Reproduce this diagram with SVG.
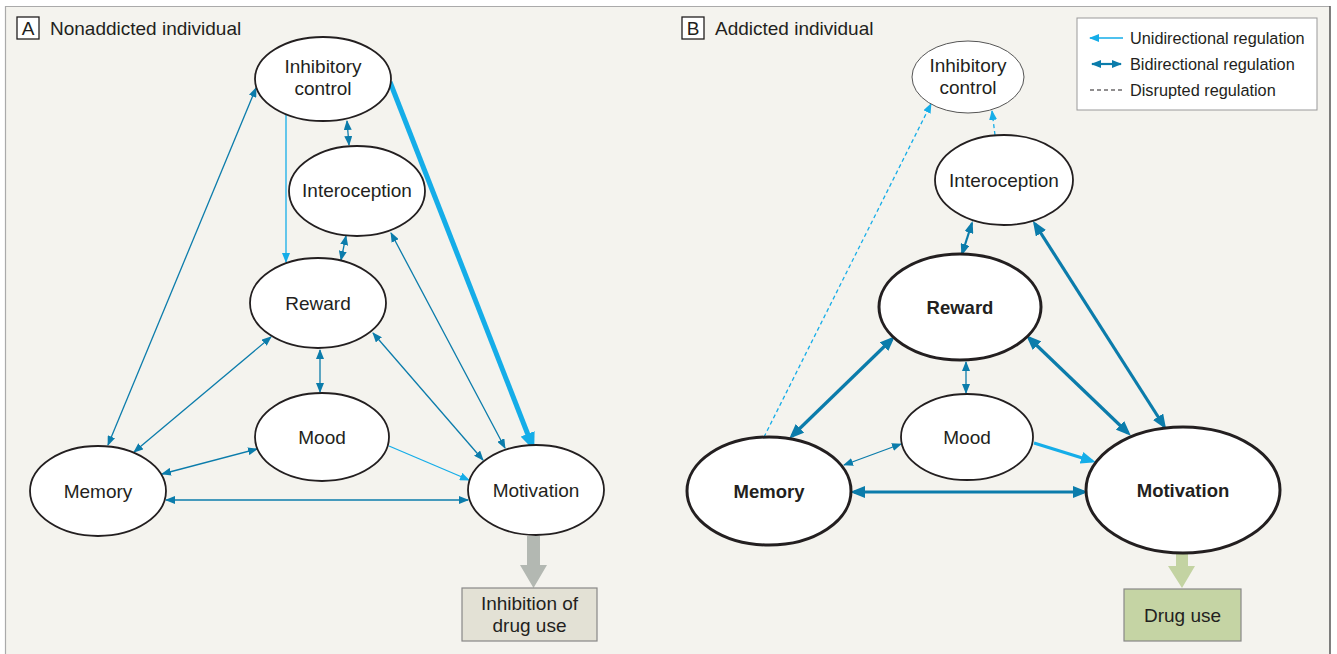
<svg xmlns="http://www.w3.org/2000/svg" width="1337" height="654" viewBox="0 0 1337 654">
<defs>
<style>
text{font-family:"Liberation Sans",Arial,Helvetica,sans-serif;fill:#231f20}
.lbl{font-size:19px;text-anchor:middle}
.b{font-weight:bold;font-size:18.5px}
.ttl{font-size:19px}
.leg{font-size:16.3px}
.node{fill:#fff;stroke:#231f20}
.n1{stroke-width:1.8}
.n3{stroke-width:3}
.nt{stroke:#555;stroke-width:1}
.c{fill:none;stroke-linecap:butt}
.teal{stroke:#0b7cab}
.cyan{stroke:#15ade8}
.w1{stroke-width:1.3}
.w2{stroke-width:2.2}
.w3{stroke-width:3.2}
.w5{stroke-width:5}
.dash{stroke-dasharray:4 3}
</style>
<marker id="tt" markerUnits="userSpaceOnUse" viewBox="0 0 10 8" refX="9" refY="4" markerWidth="10" markerHeight="8" orient="auto-start-reverse"><path d="M0,0 L10,4 L0,8 z" fill="#0b7cab"/></marker>
<marker id="tm" markerUnits="userSpaceOnUse" viewBox="0 0 12 9" refX="10" refY="4.5" markerWidth="12" markerHeight="9" orient="auto-start-reverse"><path d="M0,0 L12,4.5 L0,9 z" fill="#0b7cab"/></marker>
<marker id="tk" markerUnits="userSpaceOnUse" viewBox="0 0 15 12" refX="11" refY="6" markerWidth="15" markerHeight="12" orient="auto-start-reverse"><path d="M0,0 L15,6 L0,12 z" fill="#0b7cab"/></marker>
<marker id="ct" markerUnits="userSpaceOnUse" viewBox="0 0 10 8" refX="9" refY="4" markerWidth="10" markerHeight="8" orient="auto"><path d="M0,0 L10,4 L0,8 z" fill="#15ade8"/></marker>
<marker id="ck" markerUnits="userSpaceOnUse" viewBox="0 0 15 12" refX="11" refY="6" markerWidth="15" markerHeight="12" orient="auto"><path d="M0,0 L15,6 L0,12 z" fill="#15ade8"/></marker>
<marker id="cx" markerUnits="userSpaceOnUse" viewBox="0 0 18 15" refX="12" refY="7.5" markerWidth="18" markerHeight="15" orient="auto"><path d="M0,0 L18,7.5 L0,15 z" fill="#15ade8"/></marker>
</defs>
<rect x="0" y="0" width="1337" height="654" fill="#ffffff"/>
<rect x="5" y="6" width="1325" height="660" fill="#f4f3ee"/>
<line x1="5" y1="6.5" x2="1330" y2="6.5" stroke="#aaa" stroke-width="1.2"/>
<line x1="5.5" y1="6" x2="5.5" y2="654" stroke="#aaa" stroke-width="1.2"/>
<line x1="1330" y1="6" x2="1330" y2="654" stroke="#555" stroke-width="1.5"/>

<g id="titleA">
<rect x="17" y="17" width="22" height="22" fill="#fff" stroke="#231f20" stroke-width="1.3"/>
<text x="28" y="35" class="lbl">A</text>
<text x="50" y="35" class="ttl">Nonaddicted individual</text>
</g>
<g id="titleB">
<rect x="682" y="17" width="22" height="22" fill="#fff" stroke="#231f20" stroke-width="1.3"/>
<text x="693" y="35" class="lbl">B</text>
<text x="715" y="35" class="ttl">Addicted individual</text>
</g>

<g id="legend">
<rect x="1077" y="18" width="240" height="92" fill="#fff" stroke="#999" stroke-width="1"/>
<line x1="1123" y1="38" x2="1090" y2="38" class="c cyan w1" marker-end="url(#ct)"/>
<line x1="1092" y1="64" x2="1121" y2="64" class="c teal w2" marker-start="url(#tt)" marker-end="url(#tt)"/>
<line x1="1090" y1="90" x2="1123" y2="90" stroke="#231f20" stroke-width="1.2" stroke-dasharray="4 3"/>
<text x="1130" y="44" class="leg">Unidirectional regulation</text>
<text x="1130" y="70" class="leg">Bidirectional regulation</text>
<text x="1130" y="96" class="leg">Disrupted regulation</text>
</g>

<g id="connectorsA">
<line x1="108" y1="445" x2="256" y2="88" class="c teal w1" marker-start="url(#tt)" marker-end="url(#tt)"/>
<line x1="286" y1="115" x2="286" y2="262" class="c cyan w1" marker-end="url(#ct)"/>
<line x1="347" y1="121" x2="349" y2="145" class="c teal w1" marker-start="url(#tt)" marker-end="url(#tt)"/>
<line x1="390" y1="82" x2="532" y2="445" class="c cyan w5" marker-end="url(#cx)"/>
<line x1="346" y1="236" x2="341" y2="260" class="c teal w1" marker-start="url(#tt)" marker-end="url(#tt)"/>
<line x1="391" y1="233" x2="505" y2="448" class="c teal w1" marker-start="url(#tt)" marker-end="url(#tt)"/>
<line x1="271" y1="337" x2="134" y2="452" class="c teal w1" marker-start="url(#tt)" marker-end="url(#tt)"/>
<line x1="320" y1="350" x2="320" y2="392" class="c teal w1" marker-start="url(#tt)" marker-end="url(#tt)"/>
<line x1="373" y1="333" x2="483" y2="460" class="c teal w1" marker-start="url(#tt)" marker-end="url(#tt)"/>
<line x1="257" y1="449" x2="162" y2="474" class="c teal w1" marker-start="url(#tt)" marker-end="url(#tt)"/>
<line x1="389" y1="446" x2="469" y2="480" class="c cyan w1" marker-end="url(#ct)"/>
<line x1="166" y1="500" x2="468" y2="500" class="c teal w1" marker-start="url(#tt)" marker-end="url(#tt)"/>
<polygon points="527,536 540,536 540,565 547,565 533.5,588 520,565 527,565" fill="#b3b8b2"/>
</g>

<g id="connectorsB">
<line x1="764" y1="437" x2="931" y2="104" class="c cyan w1 dash" marker-end="url(#ct)"/>
<line x1="995" y1="135" x2="992" y2="111" class="c cyan w1 dash" marker-end="url(#ct)"/>
<line x1="972" y1="223" x2="962" y2="254" class="c teal w2" marker-start="url(#tm)" marker-end="url(#tm)"/>
<line x1="1035" y1="224" x2="1164" y2="426" class="c teal w3" marker-start="url(#tk)" marker-end="url(#tk)"/>
<line x1="892" y1="339" x2="792" y2="436" class="c teal w3" marker-start="url(#tk)" marker-end="url(#tk)"/>
<line x1="966" y1="362" x2="966" y2="393" class="c teal w1" marker-start="url(#tt)" marker-end="url(#tt)"/>
<line x1="1029" y1="338" x2="1128" y2="433" class="c teal w3" marker-start="url(#tk)" marker-end="url(#tk)"/>
<line x1="901" y1="444" x2="844" y2="465" class="c teal w1" marker-start="url(#tt)" marker-end="url(#tt)"/>
<line x1="1034" y1="443" x2="1092" y2="461" class="c cyan w3" marker-end="url(#ck)"/>
<line x1="854" y1="492" x2="1084" y2="492" class="c teal w3" marker-start="url(#tk)" marker-end="url(#tk)"/>
<polygon points="1176,553 1188,553 1188,566 1195,566 1182,588 1168,566 1176,566" fill="#c3d3a2"/>
</g>

<g id="A-inhibitory">
<ellipse cx="323" cy="79" rx="68" ry="42" class="node n1"/>
<text x="323" y="73" class="lbl">Inhibitory</text>
<text x="323" y="95" class="lbl">control</text>
</g>
<g id="A-interoception">
<ellipse cx="357" cy="191" rx="68" ry="45" class="node n1"/>
<text x="357" y="197" class="lbl">Interoception</text>
</g>
<g id="A-reward">
<ellipse cx="318" cy="303" rx="68" ry="45" class="node n1"/>
<text x="318" y="310" class="lbl">Reward</text>
</g>
<g id="A-mood">
<ellipse cx="322" cy="437" rx="67" ry="44" class="node n1"/>
<text x="322" y="444" class="lbl">Mood</text>
</g>
<g id="A-memory">
<ellipse cx="98" cy="491" rx="68" ry="45" class="node n1"/>
<text x="98" y="498" class="lbl">Memory</text>
</g>
<g id="A-motivation">
<ellipse cx="536" cy="490" rx="68" ry="45" class="node n1"/>
<text x="536" y="497" class="lbl">Motivation</text>
</g>
<g id="A-inhibition">
<rect x="462" y="588" width="135" height="53" fill="#e3e1d5" stroke="#888" stroke-width="1.2"/>
<text x="529.5" y="610" class="lbl">Inhibition of</text>
<text x="529.5" y="632" class="lbl">drug use</text>
</g>

<g id="B-inhibitory">
<ellipse cx="968" cy="77" rx="56" ry="36" class="node nt"/>
<text x="968" y="72" class="lbl">Inhibitory</text>
<text x="968" y="94" class="lbl">control</text>
</g>
<g id="B-interoception">
<ellipse cx="1004" cy="180" rx="69" ry="45" class="node n1"/>
<text x="1004" y="187" class="lbl">Interoception</text>
</g>
<g id="B-reward">
<ellipse cx="960" cy="307" rx="81" ry="53" class="node n3"/>
<text x="960" y="314" class="lbl b">Reward</text>
</g>
<g id="B-mood">
<ellipse cx="967" cy="437" rx="66" ry="43" class="node n1"/>
<text x="967" y="444" class="lbl">Mood</text>
</g>
<g id="B-memory">
<ellipse cx="769" cy="491" rx="82" ry="54" class="node n3"/>
<text x="769" y="498" class="lbl b">Memory</text>
</g>
<g id="B-motivation">
<ellipse cx="1183" cy="490" rx="97" ry="63" class="node n3"/>
<text x="1183" y="497" class="lbl b">Motivation</text>
</g>
<g id="B-druguse">
<rect x="1124" y="589" width="117" height="52" fill="#c5d4a4" stroke="#888" stroke-width="1.2"/>
<text x="1182.5" y="622" class="lbl">Drug use</text>
</g>
</svg>
